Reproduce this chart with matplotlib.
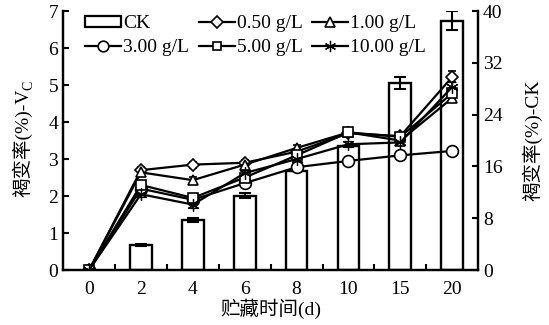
import matplotlib
matplotlib.use("Agg")
import matplotlib.pyplot as plt
from matplotlib.lines import Line2D
from matplotlib.patches import Patch
import numpy as np

plt.rcParams['font.family'] = ['Liberation Serif', 'Noto Sans CJK SC']

days = ['0', '2', '4', '6', '8', '10', '15', '20']
ck = [0, 3.9, 7.8, 11.5, 15.3, 19.2, 28.9, 38.5]
ck_err = [0, 0.2, 0.3, 0.4, 0, 0, 0.95, 1.5]

series = {
    '0.50 g/L': [0, 2.70, 2.85, 2.90, 3.20, 3.70, 3.62, 5.22],
    '1.00 g/L': [0, 2.64, 2.43, 2.85, 3.30, 3.72, 3.50, 4.65],
    '3.00 g/L': [0, 2.20, 1.90, 2.35, 2.78, 2.95, 3.10, 3.22],
    '5.00 g/L': [0, 2.30, 1.95, 2.50, 3.10, 3.72, 3.60, 4.78],
    '10.00 g/L': [0, 2.05, 1.77, 2.62, 3.00, 3.40, 3.45, 4.95],
}
errs = {
    '0.50 g/L': [0, 0.08, 0.08, 0.07, 0.08, 0.08, 0.08, 0.15],
    '1.00 g/L': [0, 0.10, 0.08, 0.08, 0.08, 0.06, 0.08, 0.12],
    '3.00 g/L': [0, 0.06, 0.06, 0.06, 0.06, 0.06, 0.06, 0.08],
    '5.00 g/L': [0, 0.08, 0.08, 0.07, 0.08, 0.08, 0.08, 0.15],
    '10.00 g/L': [0, 0.08, 0.08, 0.08, 0.08, 0.08, 0.08, 0.12],
}
markers = {'0.50 g/L': 'D', '1.00 g/L': '^', '3.00 g/L': 'o',
           '5.00 g/L': 's', '10.00 g/L': (6, 2, 0)}
msizes = {'0.50 g/L': 6.5, '1.00 g/L': 7.5, '3.00 g/L': 8.5,
          '5.00 g/L': 6.5, '10.00 g/L': 9}
mews = {'0.50 g/L': 1.2, '1.00 g/L': 1.2, '3.00 g/L': 1.2,
        '5.00 g/L': 1.2, '10.00 g/L': 0.9}

W, H = 549, 325
fig = plt.figure(figsize=(W / 100, H / 100), dpi=100)
ax = fig.add_axes([0.115, 0.169, 0.756, 0.797])
ax2 = ax.twinx()

x = np.arange(len(days))

# bars on right axis (no bar drawn for day 0, value 0)
ax2.bar(x[1:], ck[1:], width=0.42, color='white', edgecolor='black', linewidth=1.7,
        yerr=ck_err[1:], error_kw=dict(ecolor='black', elinewidth=1.5, capsize=4, capthick=1.5),
        zorder=1)
ax2.set_ylim(0, 40)
ax2.set_yticks([0, 8, 16, 24, 32, 40])

ax.set_zorder(ax2.get_zorder() + 1)
ax.patch.set_visible(False)

line_handles = {}
for name, vals in series.items():
    m = markers[name]
    ax.errorbar(x, vals, yerr=errs[name], color='black', linewidth=1.6,
                marker=m, markersize=msizes[name], markerfacecolor='white',
                markeredgecolor='black', markeredgewidth=mews[name],
                ecolor='black', elinewidth=1.2, capsize=3, capthick=1.2)
    line_handles[name] = Line2D([], [], color='black', linewidth=1.6, marker=m,
                                markersize=msizes[name] * 0.9, markerfacecolor='white',
                                markeredgecolor='black', markeredgewidth=mews[name])

ax.set_xlim(-0.5, 7.5)
ax.set_ylim(0, 7)
ax.set_yticks(range(0, 8))
ax.set_xticks(x)
ax.set_xticklabels(days)
ax.set_xticks(np.arange(0.5, 7.5, 1), minor=True)
ax.tick_params(axis='x', which='major', length=0, labelsize=14, pad=8)
ax.tick_params(axis='x', which='minor', direction='in', length=4, width=1.5)
ax.tick_params(axis='y', direction='in', length=4, width=1.5, labelsize=14)
ax2.tick_params(axis='y', direction='in', length=4, width=1.5, labelsize=14)

for a in (ax, ax2):
    a.spines['top'].set_visible(False)
    for s in ('left', 'right', 'bottom'):
        a.spines[s].set_linewidth(1.6)

ax.set_xlabel('贮藏时间(d)', fontsize=14, labelpad=0)
ylab = ax.set_ylabel('褐变率(%)-V', fontsize=14)
ax.yaxis.set_label_coords(-0.075, 0.49)
ax2.set_ylabel('褐变率(%)-CK', fontsize=14, rotation=90)
ax2.yaxis.set_label_coords(1.105, 0.5)

ck_handle = Patch(facecolor='white', edgecolor='black', linewidth=1.6)
order = [ck_handle, line_handles['3.00 g/L'], line_handles['0.50 g/L'],
         line_handles['5.00 g/L'], line_handles['1.00 g/L'], line_handles['10.00 g/L']]
labels = ['CK', '3.00 g/L', '0.50 g/L', '5.00 g/L', '1.00 g/L', '10.00 g/L']
ax.legend(order, labels, ncol=3, loc='upper left', bbox_to_anchor=(0.025, 1.03),
          frameon=False, fontsize=14, handlelength=1.85, handleheight=0.5,
          handletextpad=0.1, columnspacing=0.5, labelspacing=0.35, borderaxespad=0.2)

# subscript C for V_C
fig.canvas.draw()
bb = ylab.get_window_extent()
fig.text((bb.x1 + 3) / W, (bb.y1 - 1) / H, 'C', fontsize=10, rotation=90,
         ha='right', va='bottom')

fig.savefig('out.png', dpi=100)
